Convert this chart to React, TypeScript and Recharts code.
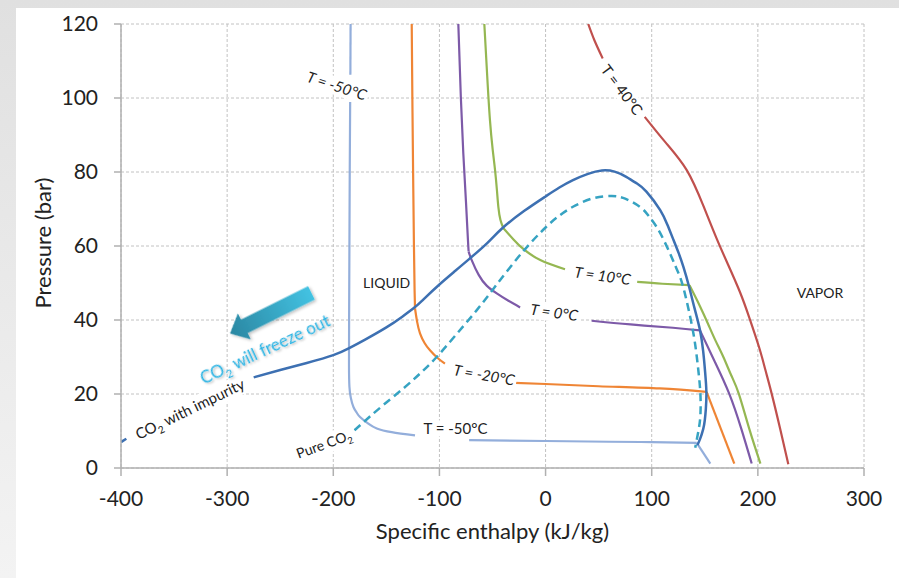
import React from 'react';
import { ComposedChart, Line, XAxis, YAxis, CartesianGrid, ReferenceDot } from 'recharts';

type Pt = { h: number; P: number | null };
const pts = (arr: Array<[number, number | null]>): Pt[] => arr.map(([h, P]) => ({ h, P }));

const X_TICKS = [-400, -300, -200, -100, 0, 100, 200, 300];
const Y_TICKS = [0, 20, 40, 60, 80, 100, 120];

// Phase envelope of CO2 with impurity (solid)
const impurityCO2 = pts([
  [-400, 7.0], [-395, 7.9], [-390, null], [-275, 24.5], [-250, 26.5], [-225, 28.4], [-200, 30.5],
  [-185, 32.4], [-170, 34.7], [-150, 38.0], [-135, 40.9], [-123, 43.5], [-115, 45.6], [-100, 49.6],
  [-85, 53.3], [-71.5, 56.6], [-55, 60.8], [-40.8, 64.8], [-20, 69.5], [0, 73.4], [13, 75.8],
  [25.8, 77.8], [40, 79.5], [53, 80.4], [65, 80.1], [76, 78.7], [86, 76.9], [95, 74.7], [108, 69.7],
  [115, 65.6], [120.3, 61.8], [125.5, 58], [130, 54.2], [135.2, 49], [140.5, 43], [145.5, 37.2],
  [148.5, 31.5], [150.3, 26], [151.5, 20.6], [151, 16], [150, 12.9], [148.5, 10.5], [145.5, 7.8], [143, 6.2],
]);

// Pure CO2 saturation dome (dashed)
const pureCO2 = pts([
  [-180, 10.2], [-173, 12], [-155, 16.5], [-134, 21.5], [-118, 25.6], [-102.6, 30], [-85, 35.8],
  [-65, 42.6], [-46, 49.6], [-21, 58.6], [0, 65], [12, 68], [25.8, 70.6], [44.8, 72.9], [62.3, 73.5],
  [75, 72.8], [88.8, 70.6], [97, 68.2], [104.5, 65.2], [111, 61.8], [117.2, 58], [122, 54.8],
  [126.6, 51.7], [130.5, 48], [135, 42.5], [139.5, 36], [142.5, 30], [144.8, 24], [146, 19],
  [145.8, 14], [144, 10], [141, 5.5],
]);

const isoMinus50 = pts([
  [-183.7, 120], [-183.9, 106.3], [-184, null], [-184.1, 98.9], [-184.5, 80], [-184.8, 60],
  [-185.1, 40], [-185.2, 28], [-184.8, 22], [-183.5, 19], [-181, 16.5], [-178, 15], [-174.8, 13.8],
  [-167, 12], [-159, 10.7], [-145, 9.7], [-123, 8.8], [-110, null], [-72, 7.55], [0, 7.3],
  [60, 7.1], [100, 7.0], [142.4, 6.8], [155.2, 1.2],
]);
const kinksMinus50 = [142.4];

const isoMinus20 = pts([
  [-126.1, 120], [-125.5, 100], [-124.8, 80], [-124, 60], [-123.4, 48], [-123, 43.1], [-121, 39.5],
  [-118.3, 36.4], [-114, 33.8], [-108.9, 31.8], [-102, 29.8], [-94.8, 28.2], [-60, null],
  [-28.8, 23], [0, 22.7], [50, 22.1], [107.6, 21.5], [151.7, 20.6], [177.8, 1.2],
]);
const kinksMinus20 = [-123, 151.7];

const iso0 = pts([
  [-82.2, 120], [-79.8, 100], [-77.5, 85], [-75, 72], [-73.2, 62], [-72.5, 58.5], [-69.6, 56.2],
  [-63, 52.2], [-55.5, 49.3], [-46, 47.2], [-35, 45.2], [-24, 43.4], [10, null], [43.4, 39.8],
  [80, 38.8], [120, 37.9], [145.5, 37.2], [159, 29], [173, 20.1], [184.5, 10.5], [194.2, 1.2],
]);
const kinks0 = [-72.5, 145.5];

const iso10 = pts([
  [-57.7, 120], [-55, 106], [-52.4, 94], [-49.8, 86], [-47.6, 80.5], [-45.8, 75], [-44.5, 70.6],
  [-42.5, 67], [-39.7, 64.8], [-30, 61.7], [-21, 59.2], [-5, 56.2], [18.3, 53.7], [50, null],
  [86.3, 50.3], [110, 49.8], [135.6, 49.4], [145, 44], [153, 39], [160, 34.5], [167.5, 30],
  [175, 25], [182, 20.1], [192, 10.5], [202.4, 1.2],
]);
const kinks10 = [-39.7, 135.6];

const iso40 = pts([
  [40.2, 120], [46, 115.6], [53.8, 110.7], [70, null], [93.4, 94.9], [113, 88.0], [133, 80.5],
  [148.6, 70.9], [161.2, 62.0], [172.2, 54.8], [183.2, 47.5], [192, 40.6], [201.3, 32.5], [207, 26.6],
  [213, 20.1], [221, 10.6], [228.7, 1],
]);

const SERIES = [
  { key: 'm50', data: isoMinus50, kinks: kinksMinus50, color: '#93aedb', width: 2.2 },
  { key: 'm20', data: isoMinus20, kinks: kinksMinus20, color: '#ef8535', width: 2.2 },
  { key: 't0', data: iso0, kinks: kinks0, color: '#7d5aa8', width: 2.2 },
  { key: 't10', data: iso10, kinks: kinks10, color: '#95b752', width: 2.2 },
  { key: 't40', data: iso40, kinks: [] as number[], color: '#c0504d', width: 2.2 },
  { key: 'pure', data: pureCO2, kinks: [] as number[], color: '#36a3c2', width: 2.5, dash: '8 5' },
  { key: 'imp', data: impurityCO2, kinks: [] as number[], color: '#3d70b2', width: 2.5 },
];

// split a series into smooth pieces at gaps (null) and at corner points
const splitSegments = (data: Pt[], kinks: number[]): Pt[][] => {
  const out: Pt[][] = [];
  let cur: Pt[] = [];
  data.forEach((d) => {
    if (d.P == null) {
      if (cur.length > 1) out.push(cur);
      cur = [];
      return;
    }
    cur.push(d);
    if (kinks.includes(d.h)) {
      if (cur.length > 1) out.push(cur);
      cur = [d];
    }
  });
  if (cur.length > 1) out.push(cur);
  return out;
};

type Ann = {
  text: string; h: number; p: number; angle: number; size: number;
  italic?: boolean; box?: [number, number]; color?: string; shadow?: boolean;
};

const ANNOTATIONS: Ann[] = [
  { text: 'T = -50°C', h: -196.8, p: 103.2, angle: 18, size: 15, italic: true, box: [66, 18] },
  { text: 'T = 40°C', h: 71.7, p: 102.2, angle: 53, size: 15, box: [62, 18] },
  { text: 'T = 10°C', h: 53.6, p: 51.9, angle: 8, size: 15, italic: true, box: [60, 18] },
  { text: 'T = 0°C', h: 8, p: 42, angle: 8, size: 15, italic: true, box: [54, 18] },
  { text: 'T = -20°C', h: -58, p: 25.1, angle: 10, size: 15, italic: true, box: [66, 18] },
  { text: 'T = -50°C', h: -84.9, p: 10.7, angle: 0, size: 15, box: [66, 16] },
  { text: 'CO2 with impurity', h: -335, p: 15.9, angle: -26, size: 15, box: [128, 20] },
  { text: 'Pure CO2', h: -208.7, p: 6.4, angle: -20, size: 14, box: [66, 20] },
  { text: 'LIQUID', h: -149.7, p: 50.1, angle: 0, size: 14 },
  { text: 'VAPOR', h: 258.5, p: 47.3, angle: 0, size: 14 },
  { text: 'CO2 will freeze out', h: -264.3, p: 32.05, angle: -25, size: 17, color: '#2cb4e4', shadow: true },
];

const richText = (text: string, size: number) => {
  const idx = text.indexOf('CO2');
  if (idx < 0) return text;
  const before = text.slice(0, idx);
  const after = text.slice(idx + 3);
  return (
    <>
      {before}
      CO
      <tspan fontSize={size * 0.68} dy={size * 0.28}>2</tspan>
      <tspan dy={-size * 0.28}>{after}</tspan>
    </>
  );
};

const makeLabel = (a: Ann) => (props: any) => {
  const { cx, cy } = props;
  if (cx == null || cy == null) return <g />;
  return (
    <g transform={`translate(${cx},${cy}) rotate(${a.angle})`}>
      {a.shadow && (
        <defs>
          <filter id="txtShadow" x="-20%" y="-50%" width="140%" height="200%">
            <feDropShadow dx="1" dy="1.5" stdDeviation="1" floodColor="#000" floodOpacity="0.3" />
          </filter>
        </defs>
      )}
      {a.box && (
        <rect x={-a.box[0] / 2} y={-a.box[1] / 2} width={a.box[0]} height={a.box[1]} fill="#ffffff" />
      )}
      <text
        x={0}
        y={0}
        dy="0.35em"
        textAnchor="middle"
        fontSize={a.size}
        fontStyle={a.italic ? 'italic' : 'normal'}
        fill={a.color || '#222222'}
        filter={a.shadow ? 'url(#txtShadow)' : undefined}
        style={{ fontFamily: 'Lato, "Open Sans", sans-serif' }}
      >
        {richText(a.text, a.size)}
      </text>
    </g>
  );
};

// Arrow anchored at its tip (data coords)
const ARROW_TIP = { h: -297.3, p: 36.35 };

const arrowShape = (props: any) => {
  const { cx, cy } = props;
  if (cx == null || cy == null) return <g />;
  const L = 91, hl = 16, hw = 14.5, sw = 7.5;
  const poly = `0,0 ${hl},${-hw} ${hl},${-sw} ${L},${-sw} ${L},${sw} ${hl},${sw} ${hl},${hw}`;
  return (
    <g transform={`translate(${cx},${cy}) rotate(-26.5)`}>
      <defs>
        <linearGradient id="arrowGrad" x1="0" y1="0" x2="1" y2="0">
          <stop offset="0%" stopColor="#2a87a2" />
          <stop offset="100%" stopColor="#43c2e2" />
        </linearGradient>
        <filter id="arrowShadow" x="-20%" y="-50%" width="140%" height="200%">
          <feDropShadow dx="1" dy="2" stdDeviation="1.5" floodColor="#000" floodOpacity="0.25" />
        </filter>
      </defs>
      <polygon points={poly} fill="url(#arrowGrad)" filter="url(#arrowShadow)" />
    </g>
  );
};

export default function App() {
  const lines: React.ReactNode[] = [];
  SERIES.forEach((s) => {
    splitSegments(s.data, s.kinks).forEach((seg, j) => {
      lines.push(
        <Line
          key={`${s.key}-${j}`}
          data={seg}
          dataKey="P"
          type="natural"
          stroke={s.color}
          strokeWidth={s.width}
          strokeDasharray={s.dash}
          dot={false}
          activeDot={false}
          isAnimationActive={false}
        />
      );
    });
  });

  return (
    <div
      style={{
        position: 'absolute',
        left: 0,
        top: 0,
        width: 899,
        height: 578,
        background: 'linear-gradient(#e0e0e0, #f3f3f3)',
        fontFamily: 'Lato, "Open Sans", sans-serif',
        overflow: 'hidden',
      }}
    >
      <div style={{ position: 'absolute', left: 16, top: 8, width: 883, height: 570, background: '#ffffff' }} />
      <div style={{ position: 'absolute', left: 0, top: 0 }}>
        <ComposedChart width={899} height={578} margin={{ top: 24, right: 35, bottom: 38, left: 0 }}>
          <CartesianGrid strokeDasharray="3 2" stroke="#c2c2c2" />
          <XAxis
            type="number"
            dataKey="h"
            domain={[-400, 300]}
            ticks={X_TICKS}
            interval={0}
            allowDataOverflow
            height={72}
            tickSize={8}
            tickMargin={15}
            axisLine={{ stroke: '#b0b0b0', strokeWidth: 1.5 }}
            tickLine={{ stroke: '#b0b0b0', strokeWidth: 1.5 }}
            tick={{ fontSize: 21, fill: '#222222' }}
          />
          <YAxis
            type="number"
            domain={[0, 120]}
            ticks={Y_TICKS}
            interval={0}
            allowDataOverflow
            width={121}
            tickSize={7}
            tickMargin={16}
            axisLine={{ stroke: '#b0b0b0', strokeWidth: 1.5 }}
            tickLine={{ stroke: '#b0b0b0', strokeWidth: 1.5 }}
            tick={{ fontSize: 21, fill: '#222222' }}
          />
          {lines}
          {ANNOTATIONS.map((a, i) => (
            <ReferenceDot key={i} x={a.h} y={a.p} r={0} ifOverflow="visible" shape={makeLabel(a)} />
          ))}
          <ReferenceDot x={ARROW_TIP.h} y={ARROW_TIP.p} r={0} ifOverflow="visible" shape={arrowShape} />
        </ComposedChart>
      </div>
      <div
        style={{
          position: 'absolute',
          left: 121,
          width: 743,
          top: 516,
          textAlign: 'center',
          fontSize: 22,
          color: '#222222',
          lineHeight: '30px',
        }}
      >
        Specific enthalpy (kJ/kg)
      </div>
      <div style={{ position: 'absolute', left: 43, top: 243, width: 0, height: 0 }}>
        <div
          style={{
            position: 'absolute',
            left: -100,
            top: -15,
            width: 200,
            textAlign: 'center',
            fontSize: 22,
            lineHeight: '30px',
            color: '#222222',
            transform: 'rotate(-90deg)',
            whiteSpace: 'nowrap',
          }}
        >
          Pressure (bar)
        </div>
      </div>
    </div>
  );
}
